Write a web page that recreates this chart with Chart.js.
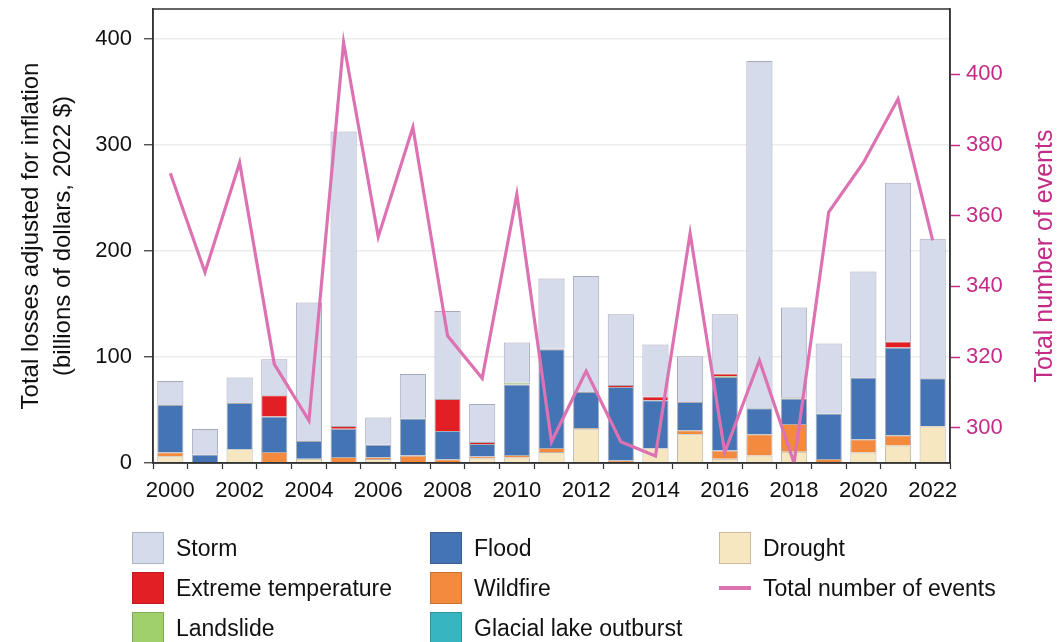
<!DOCTYPE html>
<html>
<head>
<meta charset="utf-8">
<script src="https://cdn.jsdelivr.net/npm/chart.js@4/dist/chart.umd.min.js"></script>
<style>
  html, body { margin: 0; padding: 0; background: #fff; }
  #wrap { position: relative; width: 1057px; height: 642px; overflow: hidden; }
  #chart { position: absolute; left: 0; top: 0; }
  #legend {
    position: absolute; left: 132px; top: 532px;
    display: grid; grid-template-columns: 298px 289px auto; grid-auto-rows: 40px;
    font-family: "Liberation Sans", Arial, sans-serif; font-size: 23px; color: #111;
  }
  .item { display: flex; align-items: flex-start; height: 40px; }
  .swatch { width: 32px; height: 32px; box-sizing: border-box; border: 1px solid rgba(0,0,0,0.18); flex: none; }
  .lineSwatch { width: 32px; height: 4px; margin-top: 14px; flex: none; }
  .label { margin-left: 12px; line-height: 32px; white-space: nowrap; }
</style>
</head>
<body>
<div id="wrap">
  <canvas id="chart" width="1057" height="642"></canvas>
  <div id="legend"></div>
</div>
<script>
// Years on the category axis
const years = ['2000','2001','2002','2003','2004','2005','2006','2007','2008','2009','2010','2011',
               '2012','2013','2014','2015','2016','2017','2018','2019','2020','2021','2022'];

// Losses by hazard type, billions of 2022 dollars
const drought     = [6.3, 0, 12.9, 0.8, 4.1, 0, 3.8, 0, 0, 4.4, 5.1, 10.4, 31.8, 0.8, 13.9, 27.0, 4.1, 7.0, 10.7, 0, 9.8, 16.4, 34.3];
const wildfire    = [3.8, 0, 0, 9.6, 0, 5.7, 1.6, 7.0, 3.5, 1.9, 2.4, 3.8, 1.2, 1.7, 0, 3.8, 7.6, 20.1, 26.1, 3.8, 12.6, 9.7, 0.6];
const flood       = [44.6, 7.9, 43.7, 33.4, 16.7, 26.7, 11.9, 34.9, 26.7, 11.6, 66.5, 93.1, 34.0, 69.2, 45.3, 26.8, 69.4, 24.5, 23.9, 42.8, 58.1, 82.8, 45.0];
const landslide   = [0, 0, 0, 0, 0, 0, 0, 0, 0, 0, 1.8, 0, 0, 0, 0, 0, 0.9, 0, 1.3, 0, 0, 0, 0];
const glacialLake = [0, 0, 0, 0, 0, 0, 0, 0, 0, 0, 0, 0, 0, 0, 0, 0, 0, 0, 0, 0, 0, 0, 0];
const extremeTemp = [0, 0, 0, 20.1, 0, 2.5, 0, 0, 30.2, 1.9, 0, 0.5, 0, 1.9, 3.4, 0, 2.3, 0, 0, 0, 0, 5.6, 0];
const storm       = [22.7, 24.1, 23.9, 33.9, 130.5, 277.7, 25.5, 42.1, 83.0, 35.9, 37.8, 66.2, 109.4, 66.7, 49.1, 43.1, 56.0, 327.4, 84.6, 66.0, 100.1, 149.7, 131.4];

// Number of recorded events per year
const eventCount  = [372, 344, 375, 318, 302, 409, 354, 385, 326, 314, 366, 296, 316, 296, 292, 355, 293, 319, 290, 361, 375, 393, 353];

// Axis tick values
const lossTicks  = [0, 100, 200, 300, 400];
const countTicks = [300, 320, 340, 360, 380, 400];

const FONT = '"Liberation Sans", Arial, sans-serif';
const PINK_TEXT = '#c42b86';
const LINE_PINK = '#dd72b3';
const AXIS = '#333';

const zeroToNull = arr => arr.map(v => (v === 0 ? null : v));

function barSet(label, data, color, border) {
  return {
    type: 'bar', label, data: zeroToNull(data), backgroundColor: color,
    borderColor: border || 'rgba(70,70,85,0.45)', borderWidth: 1,
    yAxisID: 'y', order: 2, stack: 'losses',
    categoryPercentage: 1, barPercentage: 0.755
  };
}

const datasets = [
  barSet('Drought', drought, '#f6e7c1', 'rgba(120,110,90,0.5)'),
  barSet('Wildfire', wildfire, '#f48a3d'),
  barSet('Flood', flood, '#4574b5'),
  barSet('Landslide', landslide, '#a0d06b'),
  barSet('Glacial lake outburst', glacialLake, '#37b6c2'),
  barSet('Extreme temperature', extremeTemp, '#e31f26'),
  barSet('Storm', storm, '#d6dbeb', '#a6a9ba'),
  {
    type: 'line', label: 'Total number of events', data: eventCount,
    borderColor: LINE_PINK, backgroundColor: LINE_PINK, borderWidth: 3.2,
    pointRadius: 0, tension: 0, yAxisID: 'y1', order: 0
  }
];

// Closes the plot frame and writes the right-hand axis title bottom-to-top
const framePlugin = {
  id: 'frame',
  afterDraw(chart) {
    const { ctx, chartArea: a } = chart;
    ctx.save();
    ctx.strokeStyle = AXIS;
    ctx.lineWidth = 1.5;
    ctx.strokeRect(a.left, a.top, a.right - a.left, a.bottom - a.top);
    ctx.translate(chart.width - 12, (a.top + a.bottom) / 2 + 20);
    ctx.rotate(-Math.PI / 2);
    ctx.fillStyle = PINK_TEXT;
    ctx.font = '25px ' + FONT;
    ctx.textAlign = 'center';
    ctx.textBaseline = 'middle';
    ctx.fillText('Total number of events', 0, 0);
    ctx.restore();
  }
};

const noEdgePadding = s => { s.paddingTop = 0; s.paddingBottom = 0; };

const chart = new Chart(document.getElementById('chart'), {
  data: { labels: years, datasets },
  options: {
    responsive: false,
    animation: false,
    layout: { padding: { top: 9, left: 0, right: 0, bottom: 0 } },
    plugins: { legend: { display: false }, tooltip: { enabled: false } },
    scales: {
      x: {
        stacked: true,
        grid: { drawOnChartArea: false, tickLength: 6, tickColor: AXIS, tickWidth: 1.2 },
        border: { display: true, color: AXIS, width: 1.5 },
        ticks: {
          autoSkip: false, maxRotation: 0, padding: 9, color: '#111',
          font: { family: FONT, size: 22 },
          callback: (v, i) => (i % 2 === 0 ? years[i] : '')
        },
        afterFit: s => { s.height = 642 - 463; s.paddingLeft = 0; s.paddingRight = 0; }
      },
      y: {
        stacked: true, position: 'left', min: 0, max: 428,
        afterBuildTicks: s => { s.ticks = lossTicks.map(v => ({ value: v })); },
        grid: { color: '#ececec', lineWidth: 1.5, tickLength: 9, tickColor: AXIS, tickWidth: 1.2 },
        border: { display: true, color: AXIS, width: 1.5 },
        ticks: { padding: 12, color: '#111', font: { family: FONT, size: 22 } },
        title: {
          display: true, color: '#111',
          text: ['Total losses adjusted for inflation', '(billions of dollars, 2022 $)'],
          font: { family: FONT, size: 24, lineHeight: 1.333 },
          padding: { top: 15, bottom: 0 }
        },
        afterFit: s => { s.width = 153; noEdgePadding(s); }
      },
      y1: {
        position: 'right', min: 290, max: 418.5,
        afterBuildTicks: s => { s.ticks = countTicks.map(v => ({ value: v })); },
        grid: { drawOnChartArea: false, tickLength: 10, tickColor: PINK_TEXT, tickWidth: 1.5 },
        border: { display: true, color: AXIS, width: 1.5 },
        ticks: { padding: 6, color: PINK_TEXT, font: { family: FONT, size: 22 } },
        afterFit: s => { s.width = 1057 - 950; noEdgePadding(s); }
      }
    }
  },
  plugins: [framePlugin]
});

// Three-column legend built from the chart's own datasets
const legendOrder = ['Storm', 'Flood', 'Drought', 'Extreme temperature', 'Wildfire',
                     'Total number of events', 'Landslide', 'Glacial lake outburst'];
const legendEl = document.getElementById('legend');
legendOrder.forEach(name => {
  const ds = chart.data.datasets.find(d => d.label === name);
  const item = document.createElement('div');
  item.className = 'item';
  const sw = document.createElement('div');
  if (ds.type === 'line') {
    sw.className = 'lineSwatch';
    sw.style.background = ds.borderColor;
  } else {
    sw.className = 'swatch';
    sw.style.background = ds.backgroundColor;
  }
  const lb = document.createElement('span');
  lb.className = 'label';
  lb.textContent = name;
  item.appendChild(sw);
  item.appendChild(lb);
  legendEl.appendChild(item);
});
</script>
</body>
</html>
